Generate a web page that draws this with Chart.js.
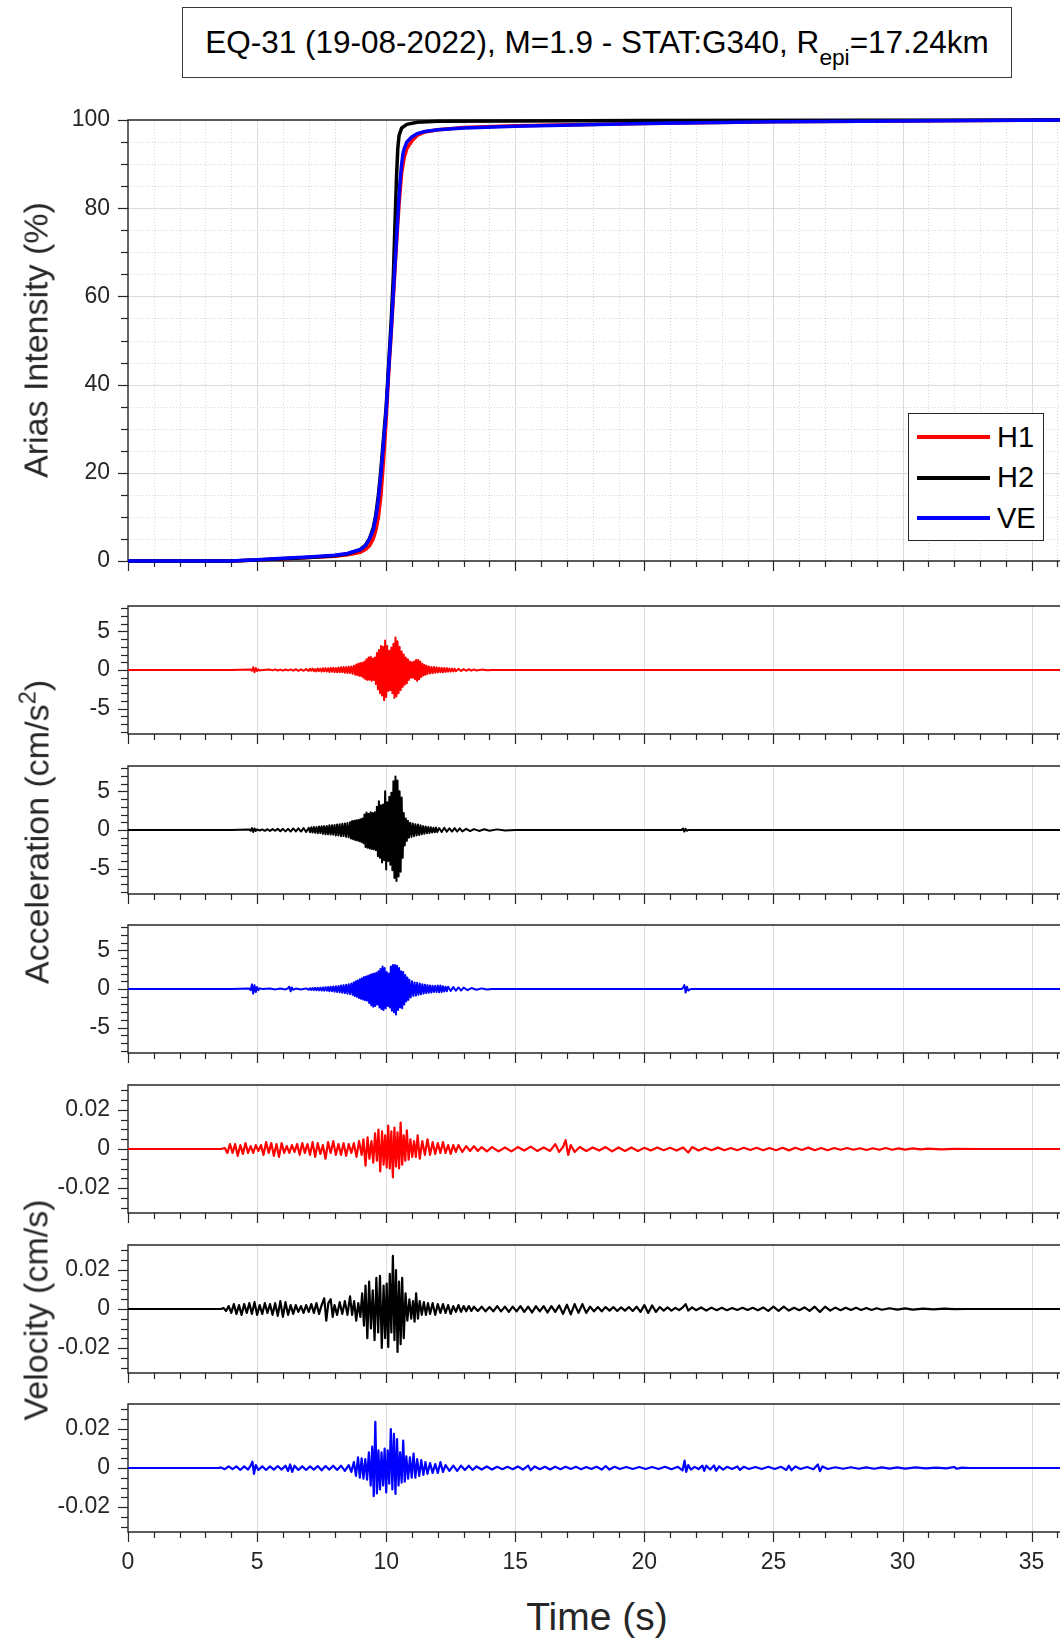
<!DOCTYPE html>
<html>
<head>
<meta charset="utf-8">
<script src="https://cdn.jsdelivr.net/npm/chart.js@4.4.1/dist/chart.umd.min.js"></script>
<style>
  body { margin: 0; background: #fff; font-family: "Liberation Sans", Arial, sans-serif; }
  #page { position: relative; width: 1060px; height: 1638px; overflow: hidden; }
  canvas { position: absolute; left: 0; }
  .title { position: absolute; left: 182px; top: 7px; width: 828px; height: 69px; border: 1.5px solid #3a3a3a;
           font-size: 31.5px; color: #000; display: flex; align-items: center; justify-content: center; white-space: nowrap; }
  .title sub { font-size: 0.72em; vertical-align: -0.55em; line-height: 0; }
  .axlab { position: absolute; color: #262626; white-space: nowrap; transform: translate(-50%, -50%) rotate(-90deg); font-size: 34px; }
  .axlab sup { font-size: 0.7em; vertical-align: 0.55em; line-height: 0; }
  .xlab { position: absolute; color: #262626; white-space: nowrap; transform: translate(-50%, -50%); font-size: 39px; }
  #legend { position: absolute; left: 908px; top: 413px; width: 134px; height: 126px; border: 1px solid #262626; background: #fff; z-index: 5; }
  #legend .item { position: absolute; left: 8px; height: 40px; display: flex; align-items: center; font-size: 29px; color: #000; }
  #legend .swatch { width: 73px; height: 4px; margin-right: 7px; }
</style>
</head>
<body>
<div id="page">
  <div class="title"><span>EQ-31 (19-08-2022), M=1.9 - STAT:G340, R<sub>epi</sub>=17.24km</span></div>
  <canvas id="arias"></canvas>
  <canvas id="accH1"></canvas>
  <canvas id="accH2"></canvas>
  <canvas id="accVE"></canvas>
  <canvas id="velH1"></canvas>
  <canvas id="velH2"></canvas>
  <canvas id="velVE"></canvas>
  <div id="legend"></div>
  <div class="axlab" style="left:36px; top:340px;">Arias Intensity (%)</div>
  <div class="axlab" style="left:37px; top:832px;">Acceleration (cm/s<sup>2</sup>)</div>
  <div class="axlab" style="left:36px; top:1310px;">Velocity (cm/s)</div>
  <div class="xlab" style="left:597px; top:1617px;">Time (s)</div>
</div>
<script>
// components
const components = ['H1', 'H2', 'VE'];

// axis ticks / labels
const timeTicks = [0,1,2,3,4,5,6,7,8,9,10,11,12,13,14,15,16,17,18,19,20,21,22,23,24,25,26,27,28,29,30,31,32,33,34,35,36];
const timeLabels = [0,5,10,15,20,25,30,35];
const ariasTicks = [0,5,10,15,20,25,30,35,40,45,50,55,60,65,70,75,80,85,90,95,100];
const ariasLabels = [0,20,40,60,80,100];
const accTicks = [-8,-7,-6,-5,-4,-3,-2,-1,0,1,2,3,4,5,6,7,8];
const accLabels = [-5,0,5];
const velTicks = [-0.03,-0.025,-0.02,-0.015,-0.01,-0.005,0,0.005,0.01,0.015,0.02,0.025,0.03];
const velLabels = [-0.02,0,0.02];
const timeRange = [0, 36.1];
const ariasRange = [0, 100];
const accRange = [-8.27, 8.27];
const velRange = [-0.0328, 0.0328];

// Arias intensity (%), [time s, value]
const ariasH1 = [[0,0],[4,0],[5,0.2],[6,0.5],[7,0.8],[8,1.1],[8.5,1.4],[9,2.0],[9.2,2.6],[9.35,3.4],[9.5,5],[9.6,7],[9.7,10],[9.8,15],[9.9,23],[10.0,32],[10.1,43],[10.2,52],[10.3,62],[10.4,72],[10.5,81],[10.6,88],[10.7,91.5],[10.8,93.5],[11.0,95.3],[11.2,96.5],[11.5,97.3],[12,97.8],[13,98.3],[15,98.7],[20,99.2],[25,99.6],[30,99.8],[36.1,100]];
const ariasH2 = [[0,0],[4,0],[5,0.2],[6,0.5],[7,0.8],[8,1.2],[8.5,1.6],[9,2.6],[9.2,3.6],[9.35,5],[9.5,7.5],[9.6,10.5],[9.7,15],[9.8,21],[9.9,28],[10.0,35],[10.1,45],[10.2,55],[10.28,65],[10.35,78],[10.4,87],[10.45,93.5],[10.5,96.5],[10.6,98.2],[10.8,99],[11.2,99.5],[12,99.7],[15,99.8],[20,99.9],[36.1,100]];
const ariasVE = [[0,0],[4,0],[5,0.3],[6,0.6],[7,0.9],[8,1.3],[8.5,1.7],[9,2.6],[9.2,3.5],[9.35,5],[9.5,7],[9.6,10],[9.7,14],[9.8,20],[9.9,27],[10.0,34],[10.1,44],[10.2,53],[10.3,63],[10.4,73],[10.5,83],[10.55,87],[10.6,90],[10.65,92.3],[10.7,93.5],[10.8,95],[11.0,96.2],[11.2,96.9],[11.5,97.4],[12,97.8],[13,98.2],[15,98.6],[20,99.2],[25,99.6],[30,99.8],[36.1,100]];

// acceleration (cm/s2), [time s, value]
const accH1 = [[0,0],[4.0,0],[4.75,0.05],[4.8,-0.1],[4.85,0.35],[4.9,-0.3],[4.95,0.25],[5.0,-0.15],[5.05,0.1],[5.1,-0.05],[5.2,0],[5.5,0.05],[5.6,-0.05],[5.7,0.08],[5.8,-0.06],[5.9,0.05],[6.0,-0.08],[6.1,0.06],[6.2,-0.05],[6.3,0.08],[6.4,-0.08],[6.5,0.1],[6.6,-0.1],[6.7,0.08],[6.8,-0.1],[6.9,0.12],[7.0,-0.12],[7.05,0.15],[7.1,-0.1],[7.15,0.18],[7.2,-0.15],[7.25,0.12],[7.3,-0.18],[7.35,0.2],[7.4,-0.15],[7.45,0.18],[7.5,-0.2],[7.55,0.22],[7.6,-0.18],[7.65,0.25],[7.7,-0.2],[7.75,0.22],[7.8,-0.25],[7.85,0.28],[7.9,-0.22],[7.95,0.3],[8.0,-0.28],[8.05,0.25],[8.1,-0.3],[8.15,0.32],[8.2,-0.28],[8.25,0.35],[8.3,-0.3],[8.35,0.38],[8.4,-0.35],[8.45,0.4],[8.5,-0.38],[8.55,0.42],[8.6,-0.4],[8.65,0.45],[8.7,-0.5],[8.75,0.55],[8.8,-0.6],[8.84,0.7],[8.88,-0.65],[8.92,0.8],[8.96,-0.75],[9.0,0.9],[9.04,-0.8],[9.08,0.95],[9.12,-1.0],[9.16,1.1],[9.2,-1.2],[9.24,1.4],[9.28,-1.3],[9.32,1.6],[9.36,-1.25],[9.4,1.7],[9.44,-1.4],[9.48,1.5],[9.52,-1.3],[9.56,1.6],[9.6,-1.8],[9.64,2.2],[9.68,-2.5],[9.72,2.6],[9.76,-3.0],[9.8,3.1],[9.84,-3.3],[9.88,3.0],[9.92,-3.9],[9.96,3.8],[10.0,-3.5],[10.04,3.1],[10.08,-2.7],[10.12,2.5],[10.16,-2.6],[10.2,2.9],[10.24,-3.0],[10.28,3.4],[10.32,-3.6],[10.36,4.2],[10.4,-3.4],[10.44,3.7],[10.48,-3.0],[10.52,3.0],[10.56,-2.6],[10.6,2.4],[10.64,-2.2],[10.68,2.0],[10.72,-1.9],[10.76,1.6],[10.8,-1.7],[10.84,1.4],[10.88,-1.3],[10.92,1.1],[10.96,-1.0],[11.0,1.0],[11.04,-1.0],[11.08,1.1],[11.12,-1.2],[11.16,1.3],[11.2,-1.4],[11.24,1.3],[11.28,-1.2],[11.32,1.1],[11.36,-0.9],[11.4,0.8],[11.44,-0.7],[11.48,0.65],[11.52,-0.6],[11.56,0.55],[11.6,-0.5],[11.65,0.45],[11.7,-0.45],[11.75,0.4],[11.8,-0.42],[11.85,0.38],[11.9,-0.35],[11.95,0.36],[12.0,-0.32],[12.05,0.3],[12.1,-0.3],[12.15,0.28],[12.2,-0.3],[12.25,0.26],[12.3,-0.25],[12.35,0.24],[12.4,-0.22],[12.45,0.2],[12.5,-0.2],[12.55,0.18],[12.6,-0.18],[12.65,0.16],[12.7,-0.15],[12.8,0.15],[12.9,-0.12],[13.0,0.12],[13.1,-0.1],[13.2,0.1],[13.3,-0.08],[13.4,0.08],[13.5,-0.06],[13.7,0.05],[13.9,-0.04],[14.1,0],[36.1,0]];
const accH2 = [[0,0],[4.0,0],[4.7,0.05],[4.75,-0.1],[4.8,0.25],[4.85,-0.25],[4.9,0.2],[4.95,-0.12],[5.0,0.08],[5.1,-0.06],[5.2,0.08],[5.3,-0.1],[5.4,0.1],[5.5,-0.12],[5.6,0.12],[5.7,-0.1],[5.8,0.15],[5.9,-0.15],[6.0,0.15],[6.1,-0.18],[6.2,0.15],[6.3,-0.2],[6.4,0.2],[6.5,-0.18],[6.6,0.22],[6.7,-0.2],[6.8,0.25],[6.9,-0.25],[7.0,0.28],[7.05,-0.3],[7.1,0.35],[7.15,-0.32],[7.2,0.38],[7.25,-0.35],[7.3,0.4],[7.35,-0.42],[7.4,0.45],[7.45,-0.4],[7.5,0.48],[7.55,-0.5],[7.6,0.5],[7.65,-0.55],[7.7,0.52],[7.75,-0.55],[7.8,0.6],[7.85,-0.58],[7.9,0.62],[7.95,-0.6],[8.0,0.65],[8.05,-0.7],[8.1,0.72],[8.15,-0.7],[8.2,0.75],[8.25,-0.8],[8.3,0.8],[8.35,-0.78],[8.4,0.85],[8.45,-0.88],[8.5,0.9],[8.55,-0.95],[8.6,1.0],[8.64,-1.1],[8.68,1.15],[8.72,-1.2],[8.76,1.2],[8.8,-1.3],[8.84,1.25],[8.88,-1.35],[8.92,1.3],[8.96,-1.45],[9.0,1.4],[9.04,-1.55],[9.08,1.5],[9.12,-1.7],[9.16,2.0],[9.2,-2.2],[9.24,2.25],[9.28,-2.3],[9.32,2.1],[9.36,-2.4],[9.4,2.3],[9.44,-2.45],[9.48,2.2],[9.52,-2.5],[9.56,2.3],[9.6,-2.6],[9.64,3.0],[9.68,-3.4],[9.72,3.7],[9.76,-3.6],[9.8,3.2],[9.84,-4.2],[9.88,3.3],[9.92,-3.9],[9.96,5.0],[10.0,-5.1],[10.04,3.6],[10.08,-4.0],[10.12,4.3],[10.16,-4.5],[10.2,4.8],[10.24,-5.2],[10.28,6.3],[10.32,-6.2],[10.36,6.9],[10.4,-6.6],[10.44,6.4],[10.48,-6.0],[10.52,5.0],[10.56,-5.4],[10.6,4.2],[10.64,-3.6],[10.68,2.2],[10.72,-2.0],[10.76,1.5],[10.8,-1.4],[10.84,1.2],[10.88,-1.0],[10.93,0.95],[10.98,-0.9],[11.03,0.85],[11.08,-0.8],[11.13,0.75],[11.18,-0.7],[11.23,0.7],[11.28,-0.65],[11.33,0.6],[11.38,-0.55],[11.43,0.5],[11.48,-0.48],[11.53,0.45],[11.58,-0.42],[11.63,0.4],[11.68,-0.38],[11.73,0.35],[11.78,-0.32],[11.83,0.3],[11.88,-0.3],[11.93,0.32],[11.98,-0.28],[12.05,0.25],[12.15,-0.25],[12.25,0.28],[12.35,-0.22],[12.45,0.22],[12.55,-0.2],[12.65,0.25],[12.75,-0.2],[12.85,0.22],[12.95,-0.18],[13.1,0.15],[13.25,-0.15],[13.4,0.12],[13.6,-0.12],[13.8,0.1],[14.0,-0.1],[14.3,0.08],[14.6,-0.06],[15,0],[21.45,0],[21.5,0.2],[21.55,-0.2],[21.6,0.15],[21.65,-0.1],[21.7,0],[36.1,0]];
const accVE = [[0,0],[4.0,0],[4.7,0.05],[4.75,-0.15],[4.8,0.6],[4.85,-0.6],[4.9,0.5],[4.95,-0.4],[5.0,0.25],[5.05,-0.15],[5.1,0.08],[5.2,0],[5.5,0.05],[5.7,-0.05],[5.9,0.06],[6.1,-0.06],[6.2,0.1],[6.25,0.3],[6.3,-0.3],[6.35,0.2],[6.4,-0.1],[6.5,0.06],[6.7,-0.06],[6.9,0.08],[7.0,-0.1],[7.05,0.1],[7.1,-0.12],[7.15,0.12],[7.2,-0.14],[7.25,0.15],[7.3,-0.15],[7.35,0.16],[7.4,-0.18],[7.45,0.18],[7.5,-0.2],[7.55,0.2],[7.6,-0.22],[7.65,0.24],[7.7,-0.22],[7.75,0.25],[7.8,-0.28],[7.85,0.3],[7.9,-0.3],[7.95,0.32],[8.0,-0.35],[8.05,0.36],[8.1,-0.38],[8.15,0.4],[8.2,-0.42],[8.25,0.45],[8.3,-0.48],[8.35,0.5],[8.4,-0.52],[8.45,0.55],[8.5,-0.6],[8.55,0.62],[8.6,-0.65],[8.65,0.7],[8.7,-0.75],[8.74,0.85],[8.78,-0.9],[8.82,1.0],[8.86,-1.0],[8.9,1.1],[8.94,-1.15],[8.98,1.25],[9.02,-1.25],[9.06,1.4],[9.1,-1.35],[9.14,1.55],[9.18,-1.45],[9.22,1.6],[9.26,-1.5],[9.3,1.7],[9.34,-1.8],[9.38,1.85],[9.42,-2.1],[9.46,1.95],[9.5,-2.3],[9.54,2.0],[9.58,-2.2],[9.62,2.1],[9.66,-2.0],[9.7,2.3],[9.74,-2.4],[9.78,2.6],[9.82,-2.6],[9.86,2.9],[9.9,-2.7],[9.94,2.7],[9.98,-2.5],[10.02,2.2],[10.06,-2.2],[10.1,2.0],[10.14,-2.4],[10.18,2.9],[10.22,-2.8],[10.26,3.1],[10.3,-3.0],[10.34,3.1],[10.38,-3.3],[10.42,3.0],[10.46,-2.7],[10.5,2.7],[10.54,-2.4],[10.58,2.3],[10.62,-2.5],[10.66,2.2],[10.7,-2.0],[10.74,1.8],[10.78,-1.6],[10.82,1.5],[10.86,-1.4],[10.9,1.2],[10.95,-1.1],[11.0,1.0],[11.05,-0.9],[11.1,0.85],[11.15,-0.85],[11.2,0.8],[11.25,-0.75],[11.3,0.7],[11.35,-0.68],[11.4,0.62],[11.45,-0.6],[11.5,0.55],[11.55,-0.52],[11.6,0.5],[11.65,-0.48],[11.7,0.45],[11.75,-0.45],[11.8,0.42],[11.85,-0.4],[11.9,0.42],[11.95,-0.4],[12.0,0.44],[12.05,-0.42],[12.1,0.45],[12.15,-0.38],[12.2,0.35],[12.25,-0.32],[12.3,0.3],[12.35,-0.3],[12.4,0.28],[12.5,-0.25],[12.6,0.24],[12.7,-0.22],[12.8,0.2],[12.9,-0.2],[13.0,0.18],[13.15,-0.15],[13.3,0.12],[13.5,-0.1],[13.7,0.08],[13.9,-0.06],[14.1,0],[21.45,0],[21.5,0.15],[21.55,0.5],[21.6,-0.45],[21.65,0.3],[21.7,-0.2],[21.8,0],[36.1,0]];

// velocity (cm/s), [time s, value]
const velH1 = [[0,0],[3.6,0],[3.75,0.0005],[3.85,-0.002],[3.95,0.0025],[4.05,-0.002],[4.15,0.0025],[4.25,-0.0035],[4.35,0.002],[4.45,-0.0025],[4.55,0.003],[4.65,-0.002],[4.75,0.0015],[4.85,-0.002],[4.95,0.002],[5.05,-0.001],[5.15,0.002],[5.25,-0.003],[5.35,0.0035],[5.45,-0.002],[5.55,0.003],[5.65,-0.0035],[5.75,0.0025],[5.85,-0.004],[5.95,0.003],[6.05,-0.002],[6.15,0.0015],[6.25,-0.002],[6.35,0.002],[6.45,-0.0015],[6.55,0.0025],[6.65,-0.003],[6.75,0.003],[6.85,-0.002],[6.95,0.0025],[7.05,-0.003],[7.15,0.0035],[7.25,-0.004],[7.35,0.003],[7.45,-0.0025],[7.55,0.002],[7.65,-0.005],[7.75,0.0035],[7.85,-0.002],[7.95,0.004],[8.05,-0.003],[8.15,0.0025],[8.25,-0.003],[8.35,0.003],[8.45,-0.0035],[8.55,0.0025],[8.65,-0.002],[8.75,0.003],[8.85,-0.004],[8.95,0.004],[9.05,-0.003],[9.12,0.005],[9.2,-0.0085],[9.28,0.006],[9.35,-0.005],[9.43,0.004],[9.5,-0.007],[9.57,0.008],[9.64,-0.006],[9.7,0.01],[9.77,-0.0115],[9.84,0.009],[9.9,-0.008],[9.96,0.007],[10.02,-0.0095],[10.08,0.012],[10.14,-0.01],[10.2,0.009],[10.26,-0.0145],[10.32,0.011],[10.38,-0.009],[10.44,0.0085],[10.5,-0.01],[10.56,0.0135],[10.62,-0.008],[10.68,0.007],[10.74,-0.006],[10.8,0.0095],[10.87,-0.0055],[10.94,0.005],[11.01,-0.004],[11.08,0.004],[11.15,-0.004],[11.22,0.007],[11.3,-0.005],[11.4,0.004],[11.5,-0.003],[11.6,0.005],[11.7,-0.003],[11.8,0.0035],[11.9,-0.0025],[12.0,0.003],[12.1,-0.002],[12.2,0.0035],[12.3,-0.002],[12.4,0.002],[12.5,-0.0025],[12.6,0.002],[12.7,-0.0015],[12.8,0.002],[12.95,-0.0015],[13.1,0.0015],[13.25,-0.001],[13.4,0.0015],[13.55,-0.001],[13.7,0.001],[13.9,-0.0012],[14.1,0.001],[14.35,-0.0012],[14.6,0.0008],[14.85,-0.0012],[15.1,0.001],[15.35,-0.0008],[15.6,0.0012],[15.85,-0.001],[16.1,0.0008],[16.35,-0.001],[16.55,0.0025],[16.7,-0.0015],[16.85,0.001],[16.95,0.0045],[17.05,-0.003],[17.15,0.002],[17.3,-0.0015],[17.5,0.001],[17.75,-0.001],[18.0,0.0008],[18.25,-0.0008],[18.5,0.001],[18.75,-0.0012],[19.0,0.0008],[19.25,-0.001],[19.5,0.0008],[19.75,-0.001],[20.0,0.0006],[20.25,-0.0008],[20.5,0.0008],[20.75,-0.0006],[21.0,0.0006],[21.25,-0.0008],[21.5,0.0008],[21.7,-0.0018],[21.85,0.001],[22.1,-0.0008],[22.35,0.0006],[22.6,-0.0006],[22.85,0.0007],[23.1,-0.0006],[23.35,0.0005],[23.6,-0.0006],[23.85,0.0006],[24.1,-0.0005],[24.35,0.0006],[24.6,-0.0006],[24.85,0.0005],[25.1,-0.0006],[25.35,0.0006],[25.6,-0.0007],[25.85,0.0006],[26.1,-0.0005],[26.35,0.0007],[26.6,-0.0006],[26.85,0.0005],[27.1,-0.0006],[27.35,0.0005],[27.6,-0.0004],[27.85,0.0005],[28.1,-0.0004],[28.35,0.0004],[28.6,-0.0005],[28.85,0.0004],[29.1,-0.0004],[29.35,0.0005],[29.6,-0.0004],[29.85,0.0003],[30.1,-0.0003],[30.4,0.0003],[30.7,-0.0002],[31.0,0.0002],[31.5,-0.0002],[32,0.0001],[33,0],[36.1,0]];
const velH2 = [[0,0],[3.6,0],[3.7,0.0005],[3.8,-0.001],[3.9,0.0015],[4.0,-0.002],[4.1,0.0025],[4.2,-0.0025],[4.3,0.002],[4.4,-0.003],[4.5,0.0025],[4.6,-0.002],[4.7,0.003],[4.8,-0.0025],[4.9,0.0035],[5.0,-0.003],[5.1,0.002],[5.2,-0.0025],[5.3,0.003],[5.4,-0.002],[5.5,0.0025],[5.6,-0.003],[5.7,0.003],[5.8,-0.0035],[5.9,0.004],[6.0,-0.004],[6.1,0.0035],[6.2,-0.003],[6.3,0.002],[6.4,-0.0025],[6.5,0.002],[6.6,-0.0015],[6.7,0.0015],[6.8,-0.002],[6.9,0.002],[7.0,-0.0015],[7.1,0.0025],[7.2,-0.002],[7.3,0.003],[7.4,-0.0025],[7.5,0.002],[7.6,0.0055],[7.68,-0.006],[7.76,0.003],[7.85,0.005],[7.93,-0.004],[8.0,0.002],[8.1,-0.003],[8.2,0.0035],[8.3,-0.0025],[8.4,0.004],[8.5,-0.003],[8.6,0.0065],[8.68,-0.003],[8.76,0.004],[8.84,-0.006],[8.92,0.003],[9.0,-0.004],[9.07,0.008],[9.14,-0.0085],[9.2,0.012],[9.27,-0.015],[9.34,0.014],[9.41,-0.010],[9.48,0.0095],[9.55,-0.016],[9.62,0.016],[9.69,-0.012],[9.76,0.017],[9.83,-0.020],[9.9,0.012],[9.96,-0.015],[10.02,0.013],[10.08,-0.0195],[10.14,0.018],[10.2,-0.012],[10.26,0.0272],[10.32,-0.016],[10.38,0.02],[10.44,-0.022],[10.5,0.014],[10.56,-0.018],[10.62,0.016],[10.68,-0.015],[10.75,0.008],[10.82,-0.006],[10.9,0.005],[10.97,-0.005],[11.04,0.004],[11.1,-0.0065],[11.16,0.008],[11.23,-0.005],[11.3,0.004],[11.38,-0.003],[11.46,0.0035],[11.54,-0.003],[11.62,0.003],[11.7,-0.0025],[11.8,0.003],[11.9,-0.003],[12.0,0.0025],[12.1,-0.002],[12.2,0.0025],[12.3,-0.002],[12.4,0.002],[12.5,-0.0025],[12.6,0.0015],[12.7,-0.0015],[12.8,0.002],[12.9,-0.0015],[13.0,0.0015],[13.1,-0.0012],[13.2,0.0015],[13.3,-0.001],[13.4,0.0012],[13.55,-0.001],[13.7,0.0012],[13.85,-0.0012],[14.0,0.001],[14.15,-0.0012],[14.3,0.0015],[14.45,-0.0012],[14.6,0.0012],[14.75,-0.0015],[14.9,0.0012],[15.05,-0.0012],[15.2,0.0015],[15.35,-0.0015],[15.5,0.0012],[15.65,-0.0018],[15.8,0.0015],[15.95,-0.0012],[16.1,0.0015],[16.25,-0.0018],[16.4,0.0015],[16.55,-0.0015],[16.7,0.0018],[16.85,-0.0025],[17.0,0.0022],[17.15,-0.0028],[17.3,0.0025],[17.45,-0.002],[17.6,0.0025],[17.75,-0.002],[17.9,0.0012],[18.05,-0.0012],[18.2,0.001],[18.35,-0.0012],[18.5,0.001],[18.65,-0.0008],[18.8,0.001],[18.95,-0.001],[19.1,0.0008],[19.25,-0.0008],[19.4,0.001],[19.55,-0.001],[19.7,0.0012],[19.85,-0.0015],[20.0,0.002],[20.15,-0.002],[20.3,0.0018],[20.45,-0.0015],[20.6,0.001],[20.75,-0.0008],[20.9,0.0008],[21.05,-0.0008],[21.2,0.0006],[21.35,-0.0006],[21.5,0.001],[21.6,0.0025],[21.7,-0.0008],[21.85,0.0008],[22.0,-0.0006],[22.2,0.0008],[22.4,-0.0008],[22.6,0.0007],[22.8,-0.0006],[23.0,0.0006],[23.2,-0.0006],[23.4,0.0005],[23.6,-0.0005],[23.8,0.0006],[24.0,-0.0005],[24.2,0.0006],[24.4,-0.0006],[24.6,0.0008],[24.8,-0.001],[25.0,0.0012],[25.2,-0.001],[25.4,0.0012],[25.6,-0.0008],[25.8,0.0006],[26.0,-0.0006],[26.2,0.0008],[26.4,-0.001],[26.6,0.0012],[26.8,-0.0015],[27.0,0.0012],[27.2,-0.0008],[27.4,0.0007],[27.6,-0.0006],[27.8,0.0006],[28.0,-0.0005],[28.2,0.0006],[28.4,-0.0005],[28.6,0.0005],[28.8,-0.0005],[29.0,0.0004],[29.2,-0.0004],[29.5,0.0004],[29.8,-0.0003],[30.1,0.0003],[30.4,-0.0003],[30.8,0.0002],[31.2,-0.0002],[31.6,0.0002],[32.0,-0.0001],[32.5,0],[36.1,0]];
const velVE = [[0,0],[3.5,0],[3.6,0.0003],[3.75,-0.0006],[3.9,0.0008],[4.05,-0.0006],[4.2,0.0008],[4.35,-0.001],[4.5,0.0008],[4.65,-0.0008],[4.75,0.0012],[4.82,0.0032],[4.88,-0.003],[4.95,0.0015],[5.05,-0.001],[5.2,0.0008],[5.35,-0.001],[5.5,0.0008],[5.65,-0.0008],[5.8,0.001],[5.95,-0.0008],[6.1,0.0012],[6.2,-0.0015],[6.28,0.0018],[6.36,-0.002],[6.45,0.0012],[6.6,-0.001],[6.75,0.0008],[6.9,-0.001],[7.05,0.0008],[7.2,-0.0008],[7.35,0.001],[7.5,-0.0012],[7.65,0.001],[7.8,-0.0008],[7.95,0.0012],[8.1,-0.001],[8.25,0.0012],[8.4,-0.0015],[8.55,0.0015],[8.65,-0.002],[8.75,0.003],[8.83,-0.004],[8.91,0.0055],[8.98,-0.005],[9.05,0.005],[9.12,-0.0055],[9.19,0.0045],[9.26,-0.006],[9.33,0.008],[9.4,-0.009],[9.46,0.011],[9.52,-0.0144],[9.58,0.0237],[9.64,-0.013],[9.7,0.009],[9.76,-0.011],[9.82,0.008],[9.88,-0.009],[9.94,0.010],[10.0,-0.0125],[10.06,0.009],[10.12,-0.008],[10.18,0.020],[10.24,-0.011],[10.3,0.0175],[10.36,-0.0133],[10.42,0.0148],[10.48,-0.009],[10.54,0.008],[10.6,-0.0075],[10.66,0.014],[10.72,-0.007],[10.78,0.006],[10.85,-0.0055],[10.92,0.0055],[10.99,-0.005],[11.06,0.0074],[11.13,-0.005],[11.2,0.0045],[11.28,-0.004],[11.36,0.004],[11.44,-0.0035],[11.52,0.003],[11.6,-0.003],[11.7,0.0025],[11.8,-0.0025],[11.9,0.002],[12.0,-0.0025],[12.1,0.003],[12.2,-0.002],[12.3,0.0015],[12.45,-0.0015],[12.6,0.0012],[12.75,-0.0015],[12.9,0.0012],[13.05,-0.001],[13.2,0.0012],[13.35,-0.001],[13.5,0.0008],[13.7,-0.0008],[13.9,0.0008],[14.1,-0.0008],[14.3,0.0006],[14.5,-0.0006],[14.7,0.0006],[14.9,-0.0006],[15.1,0.0008],[15.3,-0.0008],[15.5,0.0012],[15.6,-0.0012],[15.75,0.0008],[15.95,-0.0006],[16.15,0.0006],[16.35,-0.0008],[16.55,0.0006],[16.75,-0.0006],[16.95,0.0006],[17.15,-0.0005],[17.35,0.0006],[17.55,-0.0006],[17.75,0.0005],[17.95,-0.0005],[18.15,0.0006],[18.35,-0.0008],[18.5,0.001],[18.65,-0.0008],[18.85,0.0006],[19.05,-0.0005],[19.3,0.0005],[19.55,-0.0005],[19.8,0.0005],[20.05,-0.0005],[20.3,0.0005],[20.55,-0.0005],[20.8,0.0006],[21.05,-0.0006],[21.3,0.0006],[21.48,-0.0012],[21.56,0.0038],[21.62,-0.002],[21.7,0.0015],[21.8,-0.0008],[21.95,0.0006],[22.1,-0.0006],[22.25,0.0012],[22.32,-0.0015],[22.4,0.0012],[22.55,-0.0008],[22.7,0.0013],[22.78,-0.0014],[22.9,0.0008],[23.05,-0.0008],[23.2,0.0006],[23.4,-0.0005],[23.6,0.0008],[23.7,-0.001],[23.85,0.0006],[24.05,-0.0005],[24.3,0.0005],[24.55,-0.0005],[24.8,0.0006],[25.05,-0.0005],[25.3,0.0006],[25.5,-0.001],[25.6,0.0012],[25.7,-0.0012],[25.85,0.0008],[26.05,-0.0005],[26.3,0.0005],[26.55,-0.0006],[26.72,0.0018],[26.8,-0.0016],[26.9,0.0008],[27.1,-0.0005],[27.4,0.0004],[27.7,-0.0004],[28.0,0.0004],[28.3,-0.0004],[28.6,0.0003],[28.9,-0.0004],[29.2,0.0003],[29.5,-0.0003],[29.8,0.0003],[30.1,-0.0003],[30.5,0.0003],[30.9,-0.0002],[31.3,0.0002],[31.7,-0.0002],[32.0,0.0005],[32.1,-0.0004],[32.3,0.0002],[32.6,0],[36.1,0]];

// styling
const colors = { H1: '#ff0000', H2: '#000000', VE: '#0000ff' };
const axisColor = '#262626';
const fontFamily = '"Liberation Sans", Arial, sans-serif';
const plotLeft = 128;
const padTop = 20;

const near = (arr, v) => arr.some(a => Math.abs(a - v) < 1e-9);

// grid, box and outward ticks in the MATLAB style
const framePlugin = {
  id: 'frame',
  beforeDatasetsDraw(chart, args, opts) {
    const { ctx, chartArea: a, scales: { x, y } } = chart;
    ctx.save();
    ctx.lineWidth = 1;
    x.ticks.forEach(t => {
      if (t.value === 0) return;
      const major = near(opts.xLabels, t.value);
      if (!major && !opts.minorGrid) return;
      const px = Math.round(x.getPixelForValue(t.value)) + 0.5;
      ctx.strokeStyle = major ? '#dcdcdc' : '#d6d6d6';
      ctx.setLineDash(major ? [] : [1, 2]);
      ctx.beginPath(); ctx.moveTo(px, a.top); ctx.lineTo(px, a.bottom); ctx.stroke();
    });
    if (opts.yGrid) {
      y.ticks.forEach(t => {
        if (t.value === y.min || t.value === y.max) return;
        const major = near(opts.yLabels, t.value);
        const py = Math.round(y.getPixelForValue(t.value)) + 0.5;
        ctx.strokeStyle = major ? '#dcdcdc' : '#d6d6d6';
        ctx.setLineDash(major ? [] : [1, 2]);
        ctx.beginPath(); ctx.moveTo(a.left, py); ctx.lineTo(a.right, py); ctx.stroke();
      });
    }
    ctx.setLineDash([]);
    ctx.strokeStyle = axisColor;
    ctx.lineWidth = 1.4;
    ctx.beginPath();
    ctx.moveTo(a.right, a.top); ctx.lineTo(a.left, a.top);
    ctx.lineTo(a.left, a.bottom); ctx.lineTo(a.right, a.bottom);
    ctx.stroke();
    ctx.lineWidth = 1.2;
    x.ticks.forEach(t => {
      const len = near(opts.xLabels, t.value) ? 10 : 6;
      const px = Math.round(x.getPixelForValue(t.value)) + 0.5;
      ctx.beginPath(); ctx.moveTo(px, a.bottom); ctx.lineTo(px, a.bottom + len); ctx.stroke();
    });
    y.ticks.forEach(t => {
      const len = near(opts.yLabels, t.value) ? 10 : 7;
      const py = Math.round(y.getPixelForValue(t.value)) + 0.5;
      ctx.beginPath(); ctx.moveTo(a.left, py); ctx.lineTo(a.left - len, py); ctx.stroke();
    });
    ctx.restore();
  }
};

function makePanel(id, top, height, cfg) {
  const bottomH = cfg.showTime ? 60 : 20;
  const canvas = document.getElementById(id);
  canvas.width = 1060;
  canvas.height = padTop + height + bottomH;
  canvas.style.top = (top - padTop) + 'px';
  canvas.style.width = '1060px';
  canvas.style.height = canvas.height + 'px';
  const tickFont = { family: fontFamily, size: 23 };
  return new Chart(canvas.getContext('2d'), {
    type: 'line',
    data: { datasets: cfg.datasets },
    options: {
      responsive: false,
      animation: false,
      events: [],
      layout: { padding: { top: padTop, left: 0, right: 0, bottom: 0 } },
      plugins: {
        legend: { display: false },
        tooltip: { enabled: false },
        frame: { xLabels: timeLabels, yLabels: cfg.yLabels, minorGrid: !!cfg.minorGrid, yGrid: !!cfg.minorGrid }
      },
      elements: { point: { radius: 0 }, line: { tension: 0, borderJoinStyle: 'round' } },
      scales: {
        x: {
          type: 'linear', min: timeRange[0], max: timeRange[1],
          afterBuildTicks: s => { s.ticks = timeTicks.map(v => ({ value: v })); },
          afterFit: s => { s.height = bottomH; s.paddingLeft = 0; s.paddingRight = 0; },
          grid: { display: false, drawTicks: false },
          border: { display: false },
          ticks: {
            display: !!cfg.showTime, autoSkip: false, maxRotation: 0, padding: 17,
            color: axisColor, font: tickFont,
            callback: v => near(timeLabels, v) ? String(v) : ''
          }
        },
        y: {
          type: 'linear', min: cfg.range[0], max: cfg.range[1],
          afterBuildTicks: s => { s.ticks = cfg.yTicks.map(v => ({ value: v })); },
          afterFit: s => { s.width = plotLeft; s.paddingTop = 0; s.paddingBottom = 0; },
          grid: { display: false, drawTicks: false },
          border: { display: false },
          ticks: {
            autoSkip: false, padding: 18, color: axisColor, font: tickFont,
            callback: v => near(cfg.yLabels, v) ? String(v) : ''
          }
        }
      }
    },
    plugins: [framePlugin]
  });
}

const toXY = arr => arr.map(([t, v]) => ({ x: t, y: v }));
const trace = (name, arr, width, order) => ({
  label: name, data: toXY(arr), borderColor: colors[name], backgroundColor: colors[name],
  borderWidth: width, fill: false, order: order
});
const edgeClip = { left: 0, top: 4, right: 0, bottom: 4 };

const ariasChart = makePanel('arias', 120, 441, {
  range: ariasRange, yTicks: ariasTicks, yLabels: ariasLabels, minorGrid: true,
  datasets: [
    Object.assign(trace('H1', ariasH1, 3.5, 3), { clip: edgeClip }),
    Object.assign(trace('H2', ariasH2, 3.5, 2), { clip: edgeClip }),
    Object.assign(trace('VE', ariasVE, 3.5, 1), { clip: edgeClip })
  ]
});

const panelTops = [606, 766, 925, 1085, 1245, 1404];
const panelH = 128;
makePanel('accH1', panelTops[0], panelH, { range: accRange, yTicks: accTicks, yLabels: accLabels, datasets: [trace('H1', accH1, 2, 1)] });
makePanel('accH2', panelTops[1], panelH, { range: accRange, yTicks: accTicks, yLabels: accLabels, datasets: [trace('H2', accH2, 2, 1)] });
makePanel('accVE', panelTops[2], panelH, { range: accRange, yTicks: accTicks, yLabels: accLabels, datasets: [trace('VE', accVE, 2, 1)] });
makePanel('velH1', panelTops[3], panelH, { range: velRange, yTicks: velTicks, yLabels: velLabels, datasets: [trace('H1', velH1, 2.2, 1)] });
makePanel('velH2', panelTops[4], panelH, { range: velRange, yTicks: velTicks, yLabels: velLabels, datasets: [trace('H2', velH2, 2.2, 1)] });
makePanel('velVE', panelTops[5], panelH, { range: velRange, yTicks: velTicks, yLabels: velLabels, showTime: true, datasets: [trace('VE', velVE, 2.2, 1)] });

// legend from the Arias chart datasets
const legend = document.getElementById('legend');
ariasChart.data.datasets.forEach((ds, i) => {
  const item = document.createElement('div');
  item.className = 'item';
  item.style.top = (3 + i * 40.5) + 'px';
  const sw = document.createElement('span');
  sw.className = 'swatch';
  sw.style.background = ds.borderColor;
  item.appendChild(sw);
  item.appendChild(document.createTextNode(ds.label));
  legend.appendChild(item);
});
</script>
</body>
</html>
